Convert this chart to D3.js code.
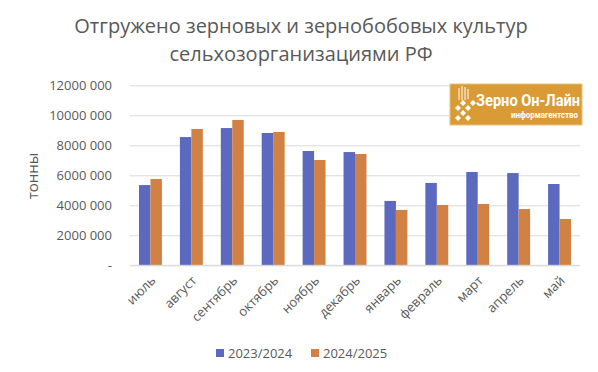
<!DOCTYPE html>
<html><head><meta charset="utf-8">
<script src="https://cdn.jsdelivr.net/npm/d3@7"></script>
<style>
html,body{margin:0;padding:0;background:#fff;}
svg{display:block;font-family:"Open Sans",sans-serif;}
</style></head>
<body><svg id="c" width="598" height="372"></svg>
<script>
const months = ["июль","август","сентябрь","октябрь","ноябрь","декабрь","январь","февраль","март","апрель","май"];
const seriesNames = ["2023/2024","2024/2025"];
const s2023 = [5350000,8550000,9150000,8820000,7620000,7550000,4290000,5490000,6220000,6150000,5420000];
const s2024 = [5750000,9090000,9690000,8890000,7020000,7420000,3690000,4020000,4090000,3750000,3090000];
const yTicks = [0,2000000,4000000,6000000,8000000,10000000,12000000];
const yTickLabels = ["-","2000 000","4000 000","6000 000","8000 000","10000 000","12000 000"];
const titleLines = ["Отгружено зерновых и зернобобовых культур","сельхозорганизациями РФ"];
const yTitle = "тонны";
const colors = ["#5B6ABF","#D08143"];

const svg = d3.select("#c");
const L=130,R=580,T=85.3,B=265.3;
const x0 = d3.scaleBand().domain(months).range([L,R]).paddingInner(0.44).paddingOuter(0.22);
const x1 = d3.scaleBand().domain(seriesNames).range([0,x0.bandwidth()]);
const y = d3.scaleLinear().domain([0,12000000]).range([B,T]);
const color = d3.scaleOrdinal().domain(seriesNames).range(colors);

// title
svg.append("g").selectAll("text").data(titleLines).join("text")
  .attr("x",301).attr("y",(d,i)=>33+i*28).attr("text-anchor","middle")
  .attr("font-size",20).attr("fill","#595959").text(d=>d);

// grid
const yAxis = d3.axisLeft(y).tickValues(yTicks).tickSize(-(R-L)).tickFormat((d,i)=>yTickLabels[i]);
const gy = svg.append("g").attr("transform",`translate(${L},0)`).call(yAxis);
gy.select(".domain").remove();
gy.selectAll(".tick line").attr("stroke","#D9D9D9").attr("stroke-width",1);
gy.selectAll(".tick text").attr("x",-18).attr("font-size",13).attr("fill","#595959").attr("font-family","Open Sans");

// y title
svg.append("text").attr("transform","translate(38,176) rotate(-90)").attr("text-anchor","middle")
  .attr("font-size",15).attr("fill","#595959").text(yTitle);

// bars
const data = months.map((m,i)=>({m, vals:[{k:seriesNames[0],v:s2023[i]},{k:seriesNames[1],v:s2024[i]}]}));
svg.append("g").selectAll("g").data(data).join("g")
  .attr("transform",d=>`translate(${x0(d.m)},0)`)
  .selectAll("rect").data(d=>d.vals).join("rect")
  .attr("x",d=>x1(d.k)).attr("width",x1.bandwidth())
  .attr("y",d=>y(d.v)).attr("height",d=>y(0)-y(d.v)).attr("fill",d=>color(d.k));

// x axis
const xAxis = d3.axisBottom(x0).tickSize(0).tickPadding(0);
const gx = svg.append("g").attr("transform",`translate(0,${B})`).call(xAxis);
gx.select(".domain").attr("stroke","#D9D9D9").attr("d",`M${L},0H${R}`);
gx.selectAll(".tick text").attr("font-size",13).attr("fill","#595959").attr("font-family","Open Sans")
  .attr("text-anchor","end").attr("dy",0).attr("y",0)
  .attr("transform","translate(6,16) rotate(-45)");

// legend
const lg = svg.append("g");
const lx=[216,311];
seriesNames.forEach((s,i)=>{
  lg.append("rect").attr("x",lx[i]).attr("y",349).attr("width",8).attr("height",8).attr("fill",color(s));
  lg.append("text").attr("x",lx[i]+12).attr("y",358).attr("font-size",13).attr("fill","#595959").text(s);
});

// logo
const lo = svg.append("g");
lo.append("rect").attr("x",450).attr("y",84).attr("width",132).attr("height",41).attr("fill","#DA9A36").attr("stroke","#E8C27A").attr("stroke-width",1);
[[459,88,100],[462,86,100],[465,87,100],[468,89,99]].forEach(([lx_,y1,y2])=>{
  lo.append("line").attr("x1",lx_).attr("x2",lx_).attr("y1",y1).attr("y2",y2).attr("stroke","#fff").attr("stroke-width",1);
});
[[463,103],[458,108],[468,108],[463,113],[473,103],[458,118],[468,118]].slice(0,7).forEach(([cx,cy])=>{
  lo.append("path").attr("d",`M${cx},${cy-3}L${cx+3},${cy}L${cx},${cy+3}L${cx-3},${cy}Z`).attr("fill","#fff");
});
lo.append("text").attr("x",476).attr("y",106).attr("font-size",16).attr("font-weight","bold")
  .attr("font-family","Roboto").attr("fill","#fff").attr("textLength",104).attr("lengthAdjust","spacingAndGlyphs").text("Зерно Он-Лайн");
lo.append("text").attr("x",511).attr("y",118).attr("font-size",9).attr("font-weight","bold")
  .attr("font-family","Roboto").attr("fill","#fff").attr("textLength",67).attr("lengthAdjust","spacingAndGlyphs").text("информагентство");
</script></body></html>
